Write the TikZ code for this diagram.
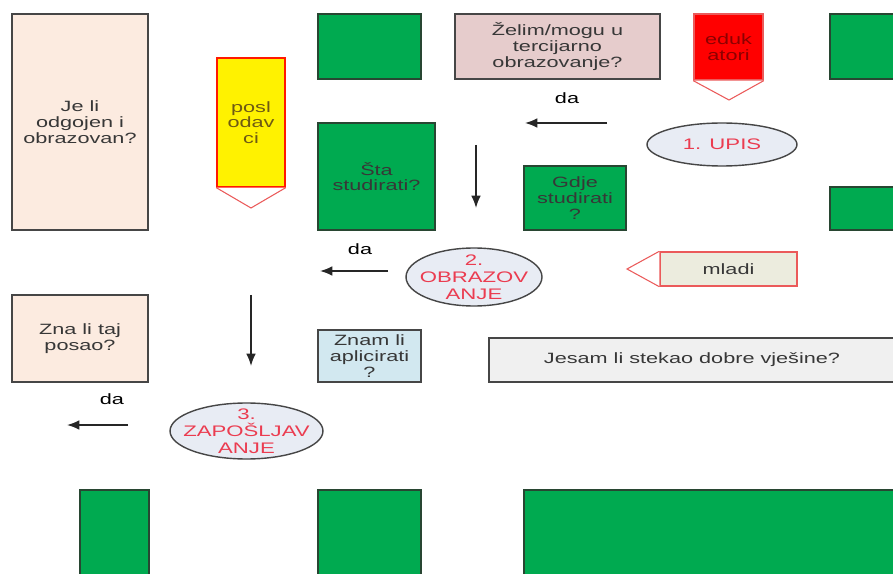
\documentclass[tikz,border=0pt]{standalone}
\usepackage{fontspec}
\setmainfont{Liberation Sans}[FakeStretch=1.45]
\usetikzlibrary{shapes,arrows.meta}
\definecolor{peach}{RGB}{252,235,224}
\definecolor{rose}{RGB}{230,204,204}
\definecolor{grn}{RGB}{0,170,80}
\definecolor{gline}{RGB}{40,70,50}
\definecolor{bline}{RGB}{70,70,70}
\definecolor{txt}{RGB}{55,55,55}
\definecolor{ell}{RGB}{232,236,244}
\definecolor{etxt}{RGB}{235,60,80}
\definecolor{pline}{RGB}{235,90,90}
\definecolor{mlad}{RGB}{236,236,222}
\definecolor{lblue}{RGB}{210,232,240}
\definecolor{lgray}{RGB}{240,240,240}
\tikzstyle{r} = [rectangle, draw=bline, line width=0.8pt, text=txt, align=center, inner sep=0pt]
\tikzstyle{g} = [rectangle, draw=gline, fill=grn, line width=0.8pt, inner sep=0pt]
\tikzstyle{e} = [ellipse, draw=bline, fill=ell, line width=0.8pt, inner sep=0pt]
\tikzstyle{et} = [text=etxt, align=center, inner sep=0pt, font=\fontsize{8.7}{9.6}\selectfont]
\tikzstyle{p} = [draw=pline, fill=white, line width=0.6pt]
\tikzstyle{a} = [-{Latex[length=7pt,width=5.5pt]}, line width=0.9pt, draw=black!85]

\begin{document}
\begin{tikzpicture}[x=0.02cm,y=-0.02cm,font=\fontsize{8.5}{9}\selectfont]
		\clip (0,0) rectangle (893,574);
		\fill[white] (0,0) rectangle (893,574);
		% gornji red
		\node[r,fill=peach,minimum width=2.72cm,minimum height=4.32cm](1) at (80,122){Je li\\odgojen i\\obrazovan?};
		\node[r,fill=yellow,draw=red!80!orange,text={rgb,255:red,110;green,90;blue,20},minimum width=1.36cm,minimum height=2.58cm](2) at (251,122.5){posl\\odav\\ci};
		\coordinate (2t) at (251,208);
		\draw[p] (2.south west)--(2t)--(2.south east);
		\node[g,minimum width=2.06cm,minimum height=1.30cm](3) at (369.5,46.5){};
		\node[r,fill=rose,minimum width=4.10cm,minimum height=1.30cm](4) at (557.5,46.5){Želim/mogu u\\tercijarno\\obrazovanje?};
		\node[r,fill=red,draw=pline,text={rgb,255:red,140;green,0;blue,0},minimum width=1.38cm,minimum height=1.32cm](5) at (728.5,47){eduk\\atori};
		\coordinate (5t) at (729,100);
		\draw[p] (5.south west)--(5t)--(5.south east);
		\node[g,minimum width=1.40cm,minimum height=1.30cm](6) at (865,46.5){};
		% 1. upis
		\node(7) at (567,98){da};
		\coordinate (7a) at (607,123);
		\coordinate (7b) at (525,123);
		\draw[a] (7a)--(7b);
		\node[e,minimum width=3.0cm,minimum height=0.86cm](8) at (722,144.5){};
		\node[et] at (8){1. UPIS};
		\node[g,r,fill=grn,draw=gline,minimum width=2.34cm,minimum height=2.14cm](9) at (376.5,176.5){Šta\\studirati?};
		\coordinate (10a) at (476,145);
		\coordinate (10b) at (476,208);
		\draw[a] (10a)--(10b);
		\node[g,r,fill=grn,draw=gline,minimum width=2.04cm,minimum height=1.28cm](11) at (575,198){Gdje\\studirati\\?};
		\node[g,minimum width=1.40cm,minimum height=0.86cm](12) at (865,208.5){};
		% 2. obrazovanje
		\node(13) at (360,249){da};
		\coordinate (13a) at (388,271);
		\coordinate (13b) at (320,271);
		\draw[a] (13a)--(13b);
		\node[e,minimum width=2.72cm,minimum height=1.16cm](14) at (474,277){};
		\node[et] at (14){2.\\OBRAZOV\\ANJE};
		\node[r,fill=mlad,draw=pline,minimum width=2.74cm,minimum height=0.68cm](15) at (728.5,269){mladi};
		\coordinate (15t) at (627,269);
		\draw[p] (15.north west)--(15t)--(15.south west);
		\node[r,fill=peach,minimum width=2.72cm,minimum height=1.74cm](16) at (80,338.5){Zna li taj\\posao?};
		\coordinate (17a) at (251,295);
		\coordinate (17b) at (251,366);
		\draw[a] (17a)--(17b);
		\node[r,fill=lblue,minimum width=2.06cm,minimum height=1.04cm](18) at (369.5,356){Znam li\\aplicirati\\?};
		\node[r,fill=lgray,minimum width=8.12cm,minimum height=0.88cm](19) at (692,360){Jesam li stekao dobre vješine?};
		% 3. zaposljavanje
		\node(20) at (112,399){da};
		\coordinate (20a) at (128,425);
		\coordinate (20b) at (67,425);
		\draw[a] (20a)--(20b);
		\node[e,minimum width=3.06cm,minimum height=1.12cm](21) at (246.5,431){};
		\node[et] at (21){3.\\ZAPOŠLJAV\\ANJE};
		% donji red
		\node[g,minimum width=1.38cm,minimum height=1.8cm](22) at (114.5,535){};
		\node[g,minimum width=2.06cm,minimum height=1.8cm](23) at (369.5,535){};
		\node[g,minimum width=7.52cm,minimum height=1.8cm](24) at (712,535){};
\end{tikzpicture}
\end{document}
